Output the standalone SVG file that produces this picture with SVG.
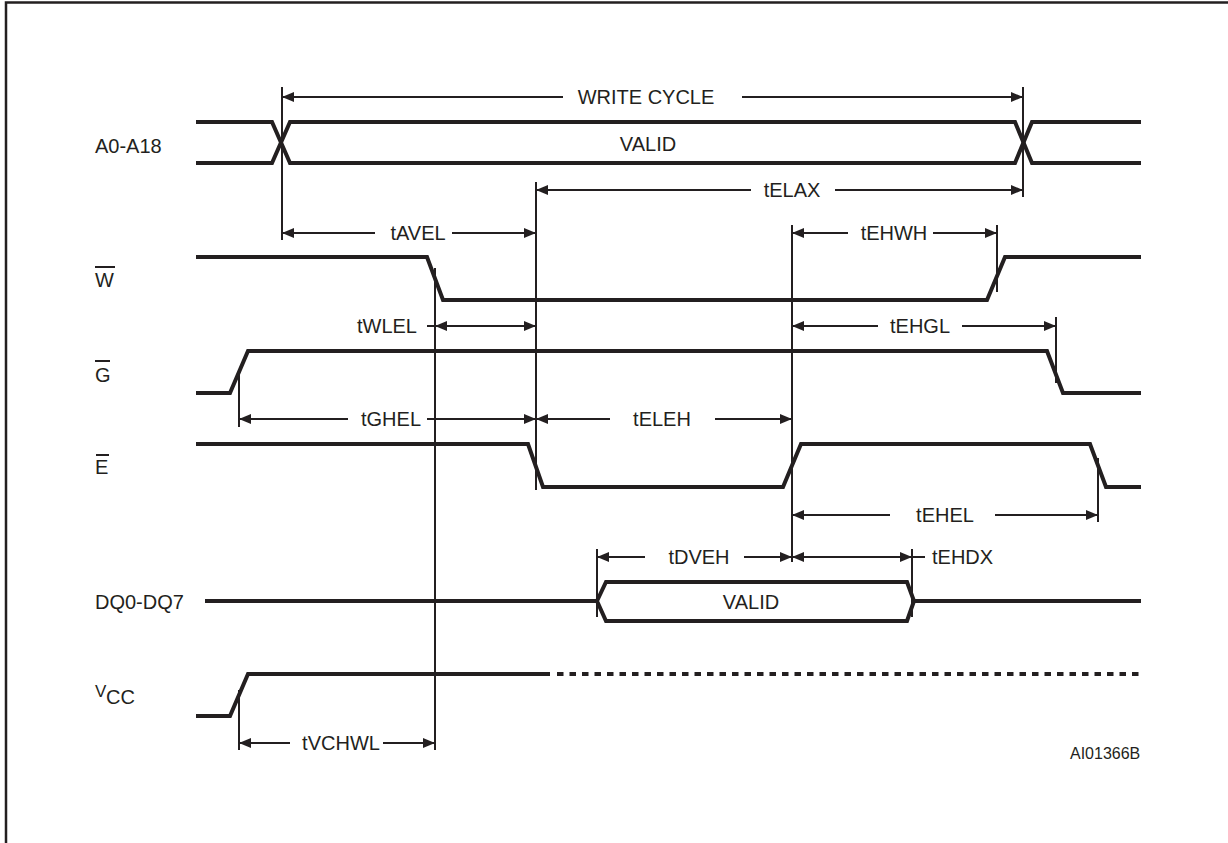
<svg xmlns="http://www.w3.org/2000/svg" width="1228" height="843" viewBox="0 0 1228 843">
<style>
.sig{fill:none;stroke:#231f20;stroke-width:4;stroke-linejoin:miter}
.dash{fill:none;stroke:#231f20;stroke-width:4;stroke-dasharray:6.5 6}
.tl{fill:none;stroke:#231f20;stroke-width:2}
.ar{fill:none;stroke:#231f20;stroke-width:2;marker-end:url(#ah)}
.ar2{fill:none;stroke:#231f20;stroke-width:2;marker-start:url(#ah);marker-end:url(#ah)}
text{font-family:"Liberation Sans",Arial,sans-serif;font-size:20px;fill:#231f20}
.sm{font-size:16px}
.mid{text-anchor:middle}
</style>
<defs>
<marker id="ah" viewBox="0 0 12 10" refX="12" refY="5" markerWidth="12" markerHeight="10" markerUnits="userSpaceOnUse" orient="auto-start-reverse">
<path d="M0,0 L12,5 L0,10 Z" fill="#231f20"/>
</marker>
</defs>
<rect width="1228" height="843" fill="#fff"/>
<path d="M6,843 V2.5 H1228" fill="none" stroke="#231f20" stroke-width="2.5"/>

<g id="labels">
<text x="95" y="153">A0-A18</text>
<g id="lbl-w"><text x="95" y="287">W</text><line x1="95" y1="267" x2="115" y2="267" class="tl" stroke-width="1.6"/></g>
<g id="lbl-g"><text x="95" y="382">G</text><line x1="95" y1="361" x2="110" y2="361" class="tl" stroke-width="1.6"/></g>
<g id="lbl-e"><text x="95" y="474">E</text><line x1="96" y1="455" x2="109" y2="455" class="tl" stroke-width="1.6"/></g>
<text x="95" y="609">DQ0-DQ7</text>
<g id="lbl-vcc"><text x="95" y="697" style="font-size:17px">V</text><text x="106" y="704">CC</text></g>
</g>

<g id="sig-addr">
<path class="sig" d="M196,122 H272 L290,163 H1015 L1032,122 H1141"/>
<path class="sig" d="M196,163 H272 L290,122 H1015 L1032,163 H1141"/>
<text x="648" y="151" class="mid">VALID</text>
</g>
<g id="sig-w"><path class="sig" d="M196,257 H427 L443,300 H987 L1005,257 H1141"/></g>
<g id="sig-g"><path class="sig" d="M196,393 H230 L248,351 H1047 L1063,393 H1141"/></g>
<g id="sig-e"><path class="sig" d="M196,444 H528 L543,487 H783 L801,444 H1090 L1106,487 H1141"/></g>
<g id="sig-dq">
<path class="sig" d="M205,601 H597"/>
<path class="sig" d="M606,582 H907 L914,601 L907,621 H606 L597,601 Z"/>
<path class="sig" d="M914,601 H1141"/>
<text x="751" y="609" class="mid">VALID</text>
</g>
<g id="sig-vcc">
<path class="sig" d="M196,716 H230 L248,674 H550"/>
<path class="dash" d="M557,674 H1141"/>
</g>

<g id="connectors">
<line class="tl" x1="282" y1="87" x2="282" y2="240"/>
<line class="tl" x1="536" y1="182" x2="536" y2="490"/>
<line class="tl" x1="1023" y1="87" x2="1023" y2="197"/>
<line class="tl" x1="435" y1="268" x2="435" y2="750"/>
<line class="tl" x1="239" y1="370" x2="239" y2="427"/>
<line class="tl" x1="239" y1="690" x2="239" y2="750"/>
<line class="tl" x1="792" y1="225" x2="792" y2="562"/>
<line class="tl" x1="997" y1="225" x2="997" y2="292"/>
<line class="tl" x1="1056" y1="317" x2="1056" y2="383"/>
<line class="tl" x1="1098" y1="458" x2="1098" y2="522"/>
<line class="tl" x1="597" y1="549" x2="597" y2="617"/>
<line class="tl" x1="912" y1="549" x2="912" y2="617"/>

<g id="t-write"><line class="ar" x1="563" y1="97" x2="282" y2="97"/><line class="ar" x1="742" y1="97" x2="1023" y2="97"/><text x="646" y="104" class="mid">WRITE CYCLE</text></g>
<g id="t-elax"><line class="ar" x1="751" y1="190" x2="536" y2="190"/><line class="ar" x1="835" y1="190" x2="1023" y2="190"/><text x="792" y="197" class="mid">tELAX</text></g>
<g id="t-avel"><line class="ar" x1="375" y1="233" x2="282" y2="233"/><line class="ar" x1="452" y1="233" x2="536" y2="233"/><text x="418" y="240" class="mid">tAVEL</text></g>
<g id="t-ehwh"><line class="ar" x1="848" y1="233" x2="792" y2="233"/><line class="ar" x1="933" y1="233" x2="997" y2="233"/><text x="894" y="240" class="mid">tEHWH</text></g>
<g id="t-wlel"><line class="tl" x1="427" y1="326" x2="435" y2="326"/><line class="ar2" x1="435" y1="326" x2="536" y2="326"/><text x="417" y="333" text-anchor="end">tWLEL</text></g>
<g id="t-ehgl"><line class="ar" x1="878" y1="326" x2="792" y2="326"/><line class="ar" x1="962" y1="326" x2="1056" y2="326"/><text x="920" y="333" class="mid">tEHGL</text></g>
<g id="t-ghel"><line class="ar" x1="348" y1="419" x2="239" y2="419"/><line class="ar" x1="427" y1="419" x2="536" y2="419"/><text x="391" y="426" class="mid">tGHEL</text></g>
<g id="t-eleh"><line class="ar" x1="610" y1="419" x2="536" y2="419"/><line class="ar" x1="715" y1="419" x2="792" y2="419"/><text x="662" y="426" class="mid">tELEH</text></g>
<g id="t-ehel"><line class="ar" x1="890" y1="515" x2="792" y2="515"/><line class="ar" x1="995" y1="515" x2="1098" y2="515"/><text x="945" y="522" class="mid">tEHEL</text></g>
<g id="t-dveh"><line class="ar" x1="645" y1="557" x2="597" y2="557"/><line class="ar" x1="744" y1="557" x2="792" y2="557"/><text x="699" y="564" class="mid">tDVEH</text></g>
<g id="t-ehdx"><line class="ar2" x1="792" y1="557" x2="912" y2="557"/><line class="tl" x1="912" y1="557" x2="925" y2="557"/><text x="932" y="564">tEHDX</text></g>
<g id="t-vchwl"><line class="ar" x1="290" y1="743" x2="239" y2="743"/><line class="ar" x1="383" y1="743" x2="435" y2="743"/><text x="341" y="750" class="mid">tVCHWL</text></g>
</g>
<text x="1070" y="759" class="sm">AI01366B</text>
</svg>
